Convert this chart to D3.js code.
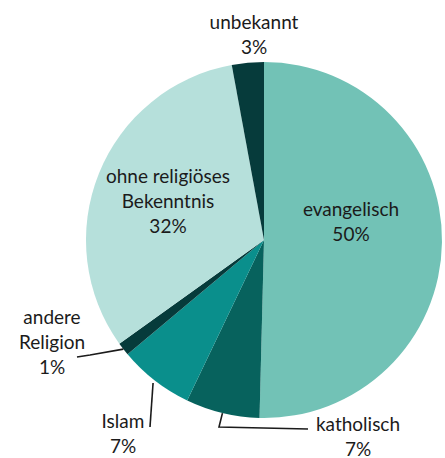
<!DOCTYPE html>
<html>
<head>
<meta charset="utf-8">
<script src="https://cdn.jsdelivr.net/npm/d3@7"></script>
<style>
  body { margin: 0; background: #fff; }
  text { font-family: Lato, "Open Sans", sans-serif; font-size: 19px; fill: #1b1b1b; }
</style>
</head>
<body>
<svg id="chart" width="445" height="458"></svg>
<script>
// Religionszugehörigkeit, Anteile in %
const categories = ['evangelisch', 'katholisch', 'Islam', 'andere Religion', 'ohne religiöses Bekenntnis', 'unbekannt'];
const shares = [50.4, 6.7, 6.8, 1.2, 32.0, 2.9];
const colors = ['#72c2b6', '#07625d', '#0a8f8c', '#063b3b', '#b6e0db', '#063b3b'];

// label layout: line breaks, anchor point, optional leader elbow
const labelLines = {
  'evangelisch': ['evangelisch'],
  'katholisch': ['katholisch'],
  'Islam': ['Islam'],
  'andere Religion': ['andere', 'Religion'],
  'ohne religiöses Bekenntnis': ['ohne religiöses', 'Bekenntnis'],
  'unbekannt': ['unbekannt'],
};
const labelPos = {
  'evangelisch': [351, 216],
  'katholisch': [358, 431],
  'Islam': [123, 428],
  'andere Religion': [52, 324],
  'ohne religiöses Bekenntnis': [168, 183],
  'unbekannt': [254, 29],
};
const leaders = {
  'katholisch': { r: 178, pts: [[219, 427], [308, 429]] },
  'Islam': { r: 181, pts: [[150, 427]] },
  'andere Religion': { r: 178, pts: [[90, 355], [77, 357]] },
};

const cx = 264, cy = 240, radius = 178, lineH = 25;
const svg = d3.select('#chart');
const data = categories.map((c, i) => ({ name: c, value: shares[i], color: colors[i] }));

const pie = d3.pie().sort(null).value((d) => d.value);
const arc = d3.arc().innerRadius(0).outerRadius(radius);
const arcs = pie(data);

const g = svg.append('g').attr('transform', `translate(${cx},${cy})`);
g.selectAll('path')
  .data(arcs)
  .join('path')
  .attr('d', arc)
  .attr('fill', (d) => d.data.color);

// leader lines
arcs.filter((d) => leaders[d.data.name]).forEach((d) => {
  const { r, pts } = leaders[d.data.name];
  const mid = (d.startAngle + d.endAngle) / 2;
  const start = [cx + Math.sin(mid) * r, cy - Math.cos(mid) * r];
  svg.append('path')
    .attr('d', d3.line()([start, ...pts]))
    .attr('fill', 'none')
    .attr('stroke', '#1b1b1b')
    .attr('stroke-width', 1.6);
});

// labels
arcs.forEach((d) => {
  const [x, y] = labelPos[d.data.name];
  const lines = [...labelLines[d.data.name], `${Math.round(d.data.value)}%`];
  const t = svg.append('text').attr('text-anchor', 'middle');
  lines.forEach((l, i) => {
    t.append('tspan').attr('x', x).attr('y', y + i * lineH).text(l);
  });
});
</script>
</body>
</html>
